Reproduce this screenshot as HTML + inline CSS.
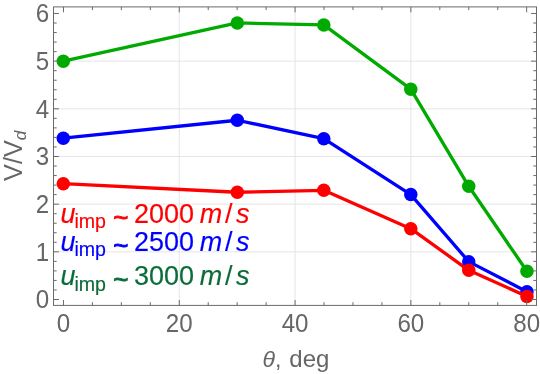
<!DOCTYPE html>
<html><head><meta charset="utf-8"><title>V/Vd vs theta</title>
<style>html,body{margin:0;padding:0;background:#fff}body{width:540px;height:374px;overflow:hidden}</style></head>
<body>
<svg width="540" height="374" viewBox="0 0 540 374" style="display:block">
<rect width="540" height="374" fill="#fff"/>
<line x1="179.27" y1="6.9" x2="179.27" y2="305.4" stroke="#e5e5e5" stroke-width="1"/>
<line x1="295.07" y1="6.9" x2="295.07" y2="305.4" stroke="#e5e5e5" stroke-width="1"/>
<line x1="410.87" y1="6.9" x2="410.87" y2="305.4" stroke="#e5e5e5" stroke-width="1"/>
<line x1="53.5" y1="251.83" x2="536.5" y2="251.83" stroke="#e5e5e5" stroke-width="1"/>
<line x1="53.5" y1="204.16" x2="536.5" y2="204.16" stroke="#e5e5e5" stroke-width="1"/>
<line x1="53.5" y1="156.49" x2="536.5" y2="156.49" stroke="#e5e5e5" stroke-width="1"/>
<line x1="53.5" y1="108.82" x2="536.5" y2="108.82" stroke="#e5e5e5" stroke-width="1"/>
<line x1="53.5" y1="61.15" x2="536.5" y2="61.15" stroke="#e5e5e5" stroke-width="1"/>
<polyline fill="none" stroke="#00aa00" stroke-width="3.3" stroke-linejoin="round" points="63.3,61.2 237.3,22.95 323.8,24.9 410.8,89.15 468.75,186.3 526.95,271.2"/>
<circle cx="63.3" cy="61.2" r="6.75" fill="#00aa00"/>
<circle cx="237.3" cy="22.95" r="6.75" fill="#00aa00"/>
<circle cx="323.8" cy="24.9" r="6.75" fill="#00aa00"/>
<circle cx="410.8" cy="89.15" r="6.75" fill="#00aa00"/>
<circle cx="468.75" cy="186.3" r="6.75" fill="#00aa00"/>
<circle cx="526.95" cy="271.2" r="6.75" fill="#00aa00"/>
<polyline fill="none" stroke="#0000ff" stroke-width="3.3" stroke-linejoin="round" points="63.3,138.15 237.3,120.25 323.8,138.65 410.8,194.55 468.75,261.65 526.95,291.7"/>
<circle cx="63.3" cy="138.15" r="6.75" fill="#0000ff"/>
<circle cx="237.3" cy="120.25" r="6.75" fill="#0000ff"/>
<circle cx="323.8" cy="138.65" r="6.75" fill="#0000ff"/>
<circle cx="410.8" cy="194.55" r="6.75" fill="#0000ff"/>
<circle cx="468.75" cy="261.65" r="6.75" fill="#0000ff"/>
<circle cx="526.95" cy="291.7" r="6.75" fill="#0000ff"/>
<polyline fill="none" stroke="#ff0000" stroke-width="3.3" stroke-linejoin="round" points="63.3,183.65 237.3,192.25 323.8,190.3 410.8,228.65 468.75,270.3 526.95,296.4"/>
<circle cx="63.3" cy="183.65" r="6.75" fill="#ff0000"/>
<circle cx="237.3" cy="192.25" r="6.75" fill="#ff0000"/>
<circle cx="323.8" cy="190.3" r="6.75" fill="#ff0000"/>
<circle cx="410.8" cy="228.65" r="6.75" fill="#ff0000"/>
<circle cx="468.75" cy="270.3" r="6.75" fill="#ff0000"/>
<circle cx="526.95" cy="296.4" r="6.75" fill="#ff0000"/>
<rect x="53.5" y="6.9" width="483.00" height="298.50" fill="none" stroke="#6a6a6a" stroke-width="1"/>
<path d="M63.47 305.4v-5.4M63.47 6.9v5.4M92.42 305.4v-3.2M92.42 6.9v3.2M121.37 305.4v-3.2M121.37 6.9v3.2M150.32 305.4v-3.2M150.32 6.9v3.2M179.27 305.4v-5.4M179.27 6.9v5.4M208.22 305.4v-3.2M208.22 6.9v3.2M237.17 305.4v-3.2M237.17 6.9v3.2M266.12 305.4v-3.2M266.12 6.9v3.2M295.07 305.4v-5.4M295.07 6.9v5.4M324.02 305.4v-3.2M324.02 6.9v3.2M352.97 305.4v-3.2M352.97 6.9v3.2M381.92 305.4v-3.2M381.92 6.9v3.2M410.87 305.4v-5.4M410.87 6.9v5.4M439.82 305.4v-3.2M439.82 6.9v3.2M468.77 305.4v-3.2M468.77 6.9v3.2M497.72 305.4v-3.2M497.72 6.9v3.2M526.67 305.4v-5.4M526.67 6.9v5.4M53.5 299.50h5.4M536.5 299.50h-5.4M53.5 289.97h3.2M536.5 289.97h-3.2M53.5 280.43h3.2M536.5 280.43h-3.2M53.5 270.90h3.2M536.5 270.90h-3.2M53.5 261.36h3.2M536.5 261.36h-3.2M53.5 251.83h5.4M536.5 251.83h-5.4M53.5 242.30h3.2M536.5 242.30h-3.2M53.5 232.76h3.2M536.5 232.76h-3.2M53.5 223.23h3.2M536.5 223.23h-3.2M53.5 213.69h3.2M536.5 213.69h-3.2M53.5 204.16h5.4M536.5 204.16h-5.4M53.5 194.63h3.2M536.5 194.63h-3.2M53.5 185.09h3.2M536.5 185.09h-3.2M53.5 175.56h3.2M536.5 175.56h-3.2M53.5 166.02h3.2M536.5 166.02h-3.2M53.5 156.49h5.4M536.5 156.49h-5.4M53.5 146.96h3.2M536.5 146.96h-3.2M53.5 137.42h3.2M536.5 137.42h-3.2M53.5 127.89h3.2M536.5 127.89h-3.2M53.5 118.35h3.2M536.5 118.35h-3.2M53.5 108.82h5.4M536.5 108.82h-5.4M53.5 99.29h3.2M536.5 99.29h-3.2M53.5 89.75h3.2M536.5 89.75h-3.2M53.5 80.22h3.2M536.5 80.22h-3.2M53.5 70.68h3.2M536.5 70.68h-3.2M53.5 61.15h5.4M536.5 61.15h-5.4M53.5 51.62h3.2M536.5 51.62h-3.2M53.5 42.08h3.2M536.5 42.08h-3.2M53.5 32.55h3.2M536.5 32.55h-3.2M53.5 23.01h3.2M536.5 23.01h-3.2M53.5 13.48h5.4M536.5 13.48h-5.4" stroke="#6a6a6a" stroke-width="1" fill="none"/>
<g font-family="'Liberation Sans', sans-serif" font-size="24.9" fill="#666">
<text transform="translate(49.3,308.30) scale(0.97,1)" text-anchor="end">0</text>
<text transform="translate(49.3,260.63) scale(0.97,1)" text-anchor="end">1</text>
<text transform="translate(49.3,212.96) scale(0.97,1)" text-anchor="end">2</text>
<text transform="translate(49.3,165.29) scale(0.97,1)" text-anchor="end">3</text>
<text transform="translate(49.3,117.62) scale(0.97,1)" text-anchor="end">4</text>
<text transform="translate(49.3,69.95) scale(0.97,1)" text-anchor="end">5</text>
<text transform="translate(49.3,22.28) scale(0.97,1)" text-anchor="end">6</text>
<text transform="translate(63.47,331.65) scale(0.97,1)" text-anchor="middle">0</text>
<text transform="translate(179.27,331.65) scale(0.97,1)" text-anchor="middle">20</text>
<text transform="translate(295.07,331.65) scale(0.97,1)" text-anchor="middle">40</text>
<text transform="translate(410.87,331.65) scale(0.97,1)" text-anchor="middle">60</text>
<text transform="translate(526.67,331.65) scale(0.97,1)" text-anchor="middle">80</text>
</g>
<g font-family="'Liberation Sans', sans-serif" font-size="23" fill="#666"><text x="262.6" y="367"><tspan font-style="italic">θ</tspan>,</text><text transform="translate(289.3,367) scale(1.045,1)">deg</text></g>
<text font-family="'Liberation Sans', sans-serif" font-size="25.2" fill="#666" style="font-kerning:none" transform="translate(22,180.9) rotate(-90)">V/V<tspan font-style="italic" font-size="17.2" dy="3.5">d</tspan></text>
<g font-family="'Liberation Sans', sans-serif" font-size="27" fill="#ff0000" stroke="#ff0000" stroke-width="0.15">
<text x="60.5" y="222.6" font-style="italic">u</text>
<text x="74.4" y="228.1" font-size="19.6">imp</text>
<text x="113.2" y="225.6" font-size="26" stroke-width="0.9">~</text>
<text x="134" y="222.6">2000</text>
<text x="199.7" y="222.6" font-style="italic">m</text>
<text x="225" y="222.6">/</text>
<text x="235.9" y="222.6" font-style="italic">s</text>
</g>
<g font-family="'Liberation Sans', sans-serif" font-size="27" fill="#0000ff" stroke="#0000ff" stroke-width="0.15">
<text x="60.5" y="250.6" font-style="italic">u</text>
<text x="74.4" y="256.1" font-size="19.6">imp</text>
<text x="113.2" y="253.6" font-size="26" stroke-width="0.9">~</text>
<text x="134" y="250.6">2500</text>
<text x="199.7" y="250.6" font-style="italic">m</text>
<text x="225" y="250.6">/</text>
<text x="235.9" y="250.6" font-style="italic">s</text>
</g>
<g font-family="'Liberation Sans', sans-serif" font-size="27" fill="#0a6c38" stroke="#0a6c38" stroke-width="0.15">
<text x="60.5" y="285.0" font-style="italic">u</text>
<text x="74.4" y="290.5" font-size="19.6">imp</text>
<text x="113.2" y="288.0" font-size="26" stroke-width="0.9">~</text>
<text x="134" y="285.0">3000</text>
<text x="199.7" y="285.0" font-style="italic">m</text>
<text x="225" y="285.0">/</text>
<text x="235.9" y="285.0" font-style="italic">s</text>
</g>
</svg>
</body></html>
